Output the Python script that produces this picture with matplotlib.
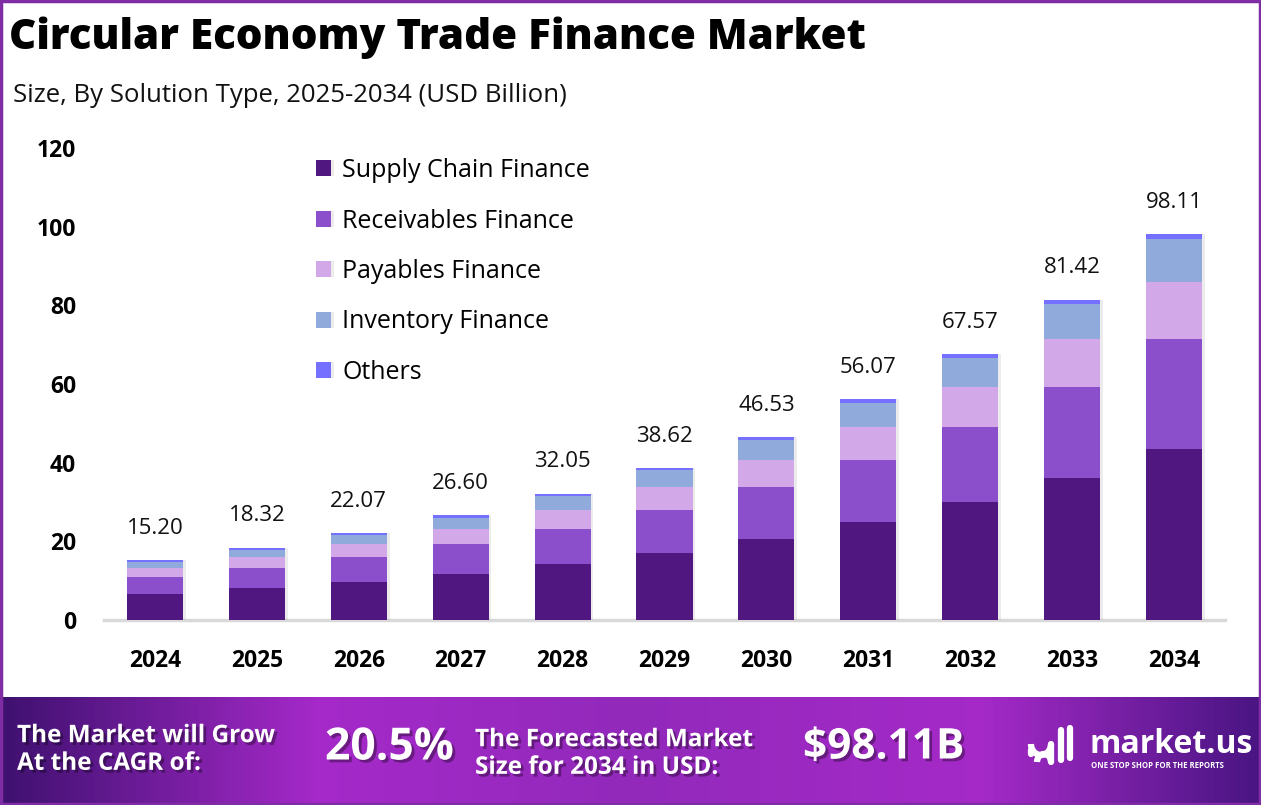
import numpy as np
import matplotlib.pyplot as plt
import matplotlib.patheffects as pe
from matplotlib.colors import LinearSegmentedColormap
from matplotlib.patches import Rectangle, Arc

plt.rcParams['font.family'] = ['Open Sans', 'DejaVu Sans']

# data (USD Billion)
years = ['2024', '2025', '2026', '2027', '2028', '2029', '2030', '2031', '2032', '2033', '2034']
totals = [15.20, 18.32, 22.07, 26.60, 32.05, 38.62, 46.53, 56.07, 67.57, 81.42, 98.11]
supply_chain = [6.6, 8.1, 9.7, 11.7, 14.2, 17.0, 20.6, 24.9, 30.0, 36.1, 43.5]
receivables = [4.3, 5.1, 6.4, 7.6, 8.9, 10.9, 13.2, 15.8, 19.1, 23.2, 28.0]
payables = [2.3, 2.8, 3.3, 3.8, 4.8, 5.9, 6.9, 8.4, 10.2, 12.2, 14.5]
inventory = [1.6, 1.9, 2.2, 2.9, 3.6, 4.3, 5.1, 6.1, 7.4, 8.9, 10.9]
others = [0.4, 0.42, 0.47, 0.6, 0.55, 0.52, 0.73, 0.87, 0.87, 1.02, 1.21]

segments = ['Supply Chain Finance', 'Receivables Finance', 'Payables Finance',
            'Inventory Finance', 'Others']
colors = ['#501780', '#8C4FCC', '#D3A8E8', '#8FAADB', '#7570FF']
series = [supply_chain, receivables, payables, inventory, others]

W, H = 1261, 805
fig = plt.figure(figsize=(W / 100, H / 100), dpi=100)

# background overlay in pixel coordinates
ov = fig.add_axes([0, 0, 1, 1], zorder=0)
ov.axis('off')

# bottom banner gradient
cmap = LinearSegmentedColormap.from_list('banner', [
    (0.0, '#3F1170'), (0.25, '#A529C9'), (0.5, '#9229BB'),
    (0.78, '#A52AC8'), (1.0, '#4A1583')])
grad = np.linspace(0, 1, 400).reshape(1, -1)
ov.imshow(grad, cmap=cmap, aspect='auto', extent=[0, W, H, 697], zorder=1)
ov.set_xlim(0, W)
ov.set_ylim(H, 0)

# frame
ov.add_patch(Rectangle((1, 1), W - 2, H - 2, fill=False, edgecolor='#7E2DA5', lw=2.5, zorder=5))

ov.text(9, 38, 'Circular Economy Trade Finance Market', fontsize=30.3, fontweight='heavy',
        va='center', ha='left', color='black')
ov.text(13, 95, 'Size, By Solution Type, 2025-2034 (USD Billion)', fontsize=18.5,
        va='center', ha='left', color='#111111')

shadow = [pe.withSimplePatchShadow(offset=(2, -2), shadow_rgbFace='black', alpha=0.35)]
ov.text(17, 750, 'The Market will Grow\nAt the CAGR of:', fontsize=17.5, fontweight='bold',
        color='white', va='center', ha='left', linespacing=1.2, path_effects=shadow, zorder=3)
ov.text(325, 748, '20.5%', fontsize=32, fontweight='bold', color='white',
        va='center', ha='left', path_effects=shadow, zorder=3)
ov.text(475, 754, 'The Forecasted Market\nSize for 2034 in USD:', fontsize=17.5, fontweight='bold',
        color='white', va='center', ha='left', linespacing=1.2, path_effects=shadow, zorder=3)
ov.text(803, 748, '$98.11B', fontsize=30.5, fontweight='bold', color='white',
        va='center', ha='left', path_effects=shadow, zorder=3)

# logo
ov.text(1090, 744, 'market.us', fontsize=23, fontweight='bold', color='white',
        va='center', ha='left', zorder=3)
ov.text(1091, 765, 'ONE STOP SHOP FOR THE REPORTS', fontsize=5.6, fontweight='bold',
        color='white', va='center', ha='left', zorder=3)
ov.add_patch(Arc((1041, 744), 20, 22, theta1=0, theta2=180, color='white', lw=4.5, zorder=3))
ov.plot([1051, 1051], [744, 762], color='white', lw=4.5, solid_capstyle='round', zorder=3)
ov.add_patch(Arc((1044, 762), 14, 16, theta1=180, theta2=360, color='white', lw=4.5, zorder=3))
ov.plot([1031, 1031], [750, 754], color='white', lw=4.5, solid_capstyle='round', zorder=3)
ov.plot([1061, 1061], [730, 760], color='white', lw=4.5, solid_capstyle='round', zorder=3)
ov.plot([1070, 1070], [728, 758], color='white', lw=4.5, solid_capstyle='round', zorder=3)

# main chart
ax = fig.add_axes([104 / W, (H - 620) / H, (1225 - 104) / W, (620 - 148) / H], zorder=2)
ax.patch.set_alpha(0)
x = np.arange(len(years))
bottom = np.zeros(len(years))
bar_shadow = [pe.SimplePatchShadow(offset=(2, 0), shadow_rgbFace='#999999', alpha=0.18), pe.Normal()]
for name, vals, c in zip(segments, series, colors):
    ax.bar(x, vals, 0.55, bottom=bottom, color=c, label=name, zorder=3, path_effects=bar_shadow)
    bottom += np.array(vals)

for xi, top, t in zip(x, bottom, totals):
    ax.annotate(f'{t:.2f}', (xi, top), xytext=(0, 23), textcoords='offset points',
                ha='center', va='center', fontsize=16, color='#111111')

ax.set_xlim(-0.5, 10.5)
ax.set_ylim(0, 120)
ax.set_yticks([0, 20, 40, 60, 80, 100, 120])
ax.set_xticks(x)
ax.set_xticklabels(years)
ax.tick_params(axis='both', length=0, labelsize=16.5)
ax.tick_params(axis='y', pad=20)
ax.tick_params(axis='x', pad=21)
for lab in ax.get_xticklabels() + ax.get_yticklabels():
    lab.set_fontweight('bold')
for s in ['top', 'right', 'left']:
    ax.spines[s].set_visible(False)
ax.spines['bottom'].set_color('#D9D9D9')
ax.spines['bottom'].set_linewidth(2.5)

ax.legend(loc='upper left', bbox_to_anchor=(0.18, 1.0), frameon=False, fontsize=18,
          handlelength=0.6, handleheight=0.6, handletextpad=0.45, labelspacing=1.02,
          borderaxespad=0.2, borderpad=0.2)

fig.savefig('out.png', dpi=100)
